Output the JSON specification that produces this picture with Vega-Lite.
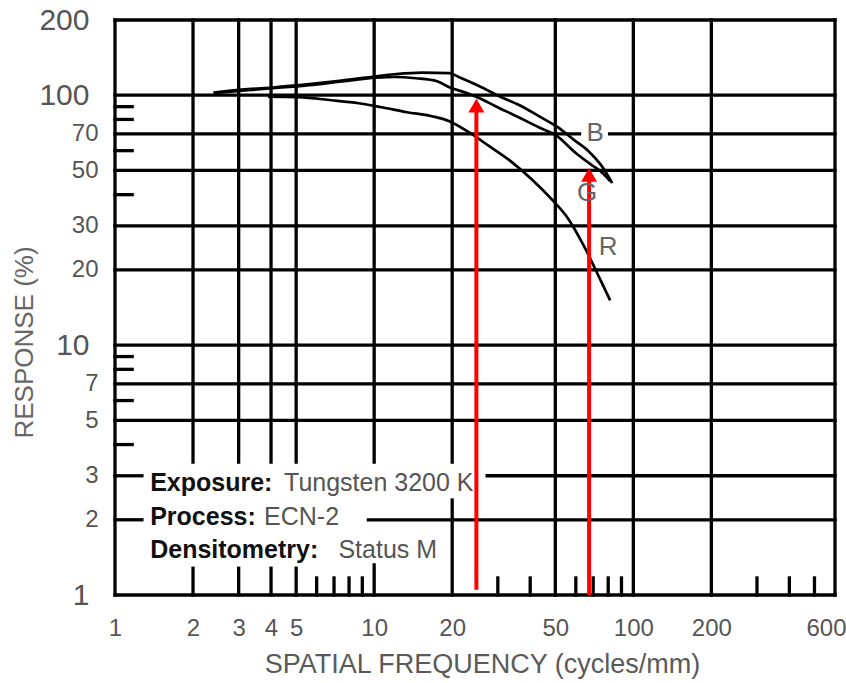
{
  "$schema": "https://vega.github.io/schema/vega-lite/v6.json",
  "width": 720,
  "height": 575,
  "autosize": {"type": "none"},
  "padding": {"left": 115, "top": 20, "right": 11, "bottom": 88},
  "background": "white",
  "config": {"view": {"stroke": null}, "font": "Liberation Sans"},
  "datasets": {
    "grid": [
      {"x": 1, "x2": 600, "y": 200, "y2": 200},
      {"x": 1, "x2": 600, "y": 100, "y2": 100},
      {"x": 1, "x2": 62, "y": 70, "y2": 70},
      {"x": 81, "x2": 600, "y": 70, "y2": 70},
      {"x": 1, "x2": 600, "y": 50, "y2": 50},
      {"x": 1, "x2": 600, "y": 30, "y2": 30},
      {"x": 1, "x2": 600, "y": 20, "y2": 20},
      {"x": 1, "x2": 600, "y": 10, "y2": 10},
      {"x": 1, "x2": 600, "y": 7, "y2": 7},
      {"x": 1, "x2": 600, "y": 5, "y2": 5},
      {"x": 1, "x2": 1.27, "y": 3, "y2": 3},
      {"x": 27.3, "x2": 600, "y": 3, "y2": 3},
      {"x": 1, "x2": 1.27, "y": 2, "y2": 2},
      {"x": 9.5, "x2": 600, "y": 2, "y2": 2},
      {"x": 1, "x2": 600, "y": 1, "y2": 1},
      {"x": 1, "x2": 1.165, "y": 90, "y2": 90},
      {"x": 1, "x2": 1.165, "y": 80, "y2": 80},
      {"x": 1, "x2": 1.165, "y": 60, "y2": 60},
      {"x": 1, "x2": 1.165, "y": 40, "y2": 40},
      {"x": 1, "x2": 1.165, "y": 9, "y2": 9},
      {"x": 1, "x2": 1.165, "y": 8, "y2": 8},
      {"x": 1, "x2": 1.165, "y": 6, "y2": 6},
      {"x": 1, "x2": 1.165, "y": 4, "y2": 4},
      {"x": 1, "x2": 1, "y": 1, "y2": 200},
      {"x": 2, "x2": 2, "y": 3.4, "y2": 200},
      {"x": 2, "x2": 2, "y": 1, "y2": 1.28},
      {"x": 3, "x2": 3, "y": 3.4, "y2": 200},
      {"x": 3, "x2": 3, "y": 1, "y2": 1.28},
      {"x": 4, "x2": 4, "y": 3.4, "y2": 200},
      {"x": 4, "x2": 4, "y": 1, "y2": 1.28},
      {"x": 5, "x2": 5, "y": 3.4, "y2": 200},
      {"x": 5, "x2": 5, "y": 1, "y2": 1.28},
      {"x": 10, "x2": 10, "y": 3.4, "y2": 200},
      {"x": 10, "x2": 10, "y": 1, "y2": 1.32},
      {"x": 20, "x2": 20, "y": 3.4, "y2": 200},
      {"x": 20, "x2": 20, "y": 1, "y2": 2.4},
      {"x": 50, "x2": 50, "y": 1, "y2": 200},
      {"x": 100, "x2": 100, "y": 1, "y2": 200},
      {"x": 200, "x2": 200, "y": 1, "y2": 200},
      {"x": 600, "x2": 600, "y": 1, "y2": 200},
      {"x": 6, "x2": 6, "y": 1, "y2": 1.17},
      {"x": 7, "x2": 7, "y": 1, "y2": 1.17},
      {"x": 8, "x2": 8, "y": 1, "y2": 1.17},
      {"x": 9, "x2": 9, "y": 1, "y2": 1.17},
      {"x": 30, "x2": 30, "y": 1, "y2": 1.17},
      {"x": 40, "x2": 40, "y": 1, "y2": 1.17},
      {"x": 60, "x2": 60, "y": 1, "y2": 1.17},
      {"x": 70, "x2": 70, "y": 1, "y2": 1.17},
      {"x": 80, "x2": 80, "y": 1, "y2": 1.17},
      {"x": 90, "x2": 90, "y": 1, "y2": 1.17},
      {"x": 300, "x2": 300, "y": 1, "y2": 1.17},
      {"x": 400, "x2": 400, "y": 1, "y2": 1.17},
      {"x": 500, "x2": 500, "y": 1, "y2": 1.17}
    ],
    "curves": [
      {"curve": "B", "freq": 2.40, "resp": 102.5},
      {"curve": "B", "freq": 3.26, "resp": 105.7},
      {"curve": "B", "freq": 4.07, "resp": 107.4},
      {"curve": "B", "freq": 5.62, "resp": 110.7},
      {"curve": "B", "freq": 7.35, "resp": 114.1},
      {"curve": "B", "freq": 10.2, "resp": 119.1},
      {"curve": "B", "freq": 12.0, "resp": 121.3},
      {"curve": "B", "freq": 15.3, "resp": 123.2},
      {"curve": "B", "freq": 19.5, "resp": 122.5},
      {"curve": "B", "freq": 21.3, "resp": 118.0},
      {"curve": "B", "freq": 25.5, "resp": 108.6},
      {"curve": "B", "freq": 30.4, "resp": 99.1},
      {"curve": "B", "freq": 36.4, "resp": 91.2},
      {"curve": "B", "freq": 43.9, "resp": 81.7},
      {"curve": "B", "freq": 51.1, "resp": 74.5},
      {"curve": "B", "freq": 58.5, "resp": 66.7},
      {"curve": "B", "freq": 66.9, "resp": 60.0},
      {"curve": "B", "freq": 75.1, "resp": 52.5},
      {"curve": "B", "freq": 82.9, "resp": 44.5},
      {"curve": "G", "freq": 2.40, "resp": 101.9},
      {"curve": "G", "freq": 3.26, "resp": 104.7},
      {"curve": "G", "freq": 4.07, "resp": 106.7},
      {"curve": "G", "freq": 5.62, "resp": 109.6},
      {"curve": "G", "freq": 7.35, "resp": 113.2},
      {"curve": "G", "freq": 10.2, "resp": 117.5},
      {"curve": "G", "freq": 12.0, "resp": 118.3},
      {"curve": "G", "freq": 14.5, "resp": 116.9},
      {"curve": "G", "freq": 17.5, "resp": 113.8},
      {"curve": "G", "freq": 19.5, "resp": 107.6},
      {"curve": "G", "freq": 22.9, "resp": 101.9},
      {"curve": "G", "freq": 25.5, "resp": 97.3},
      {"curve": "G", "freq": 29.4, "resp": 90.4},
      {"curve": "G", "freq": 36.4, "resp": 81.3},
      {"curve": "G", "freq": 43.5, "resp": 74.1},
      {"curve": "G", "freq": 50.2, "resp": 69.2},
      {"curve": "G", "freq": 60.1, "resp": 58.6},
      {"curve": "G", "freq": 69.9, "resp": 52.1},
      {"curve": "G", "freq": 75.1, "resp": 49.4},
      {"curve": "G", "freq": 81.4, "resp": 45.3},
      {"curve": "R", "freq": 3.89, "resp": 98.6},
      {"curve": "R", "freq": 5.09, "resp": 98.2},
      {"curve": "R", "freq": 6.84, "resp": 95.5},
      {"curve": "R", "freq": 8.71, "resp": 92.9},
      {"curve": "R", "freq": 10.7, "resp": 89.5},
      {"curve": "R", "freq": 13.4, "resp": 85.5},
      {"curve": "R", "freq": 16.7, "resp": 82.4},
      {"curve": "R", "freq": 19.5, "resp": 78.7},
      {"curve": "R", "freq": 23.5, "resp": 70.5},
      {"curve": "R", "freq": 27.8, "resp": 62.5},
      {"curve": "R", "freq": 33.6, "resp": 54.5},
      {"curve": "R", "freq": 40.9, "resp": 45.7},
      {"curve": "R", "freq": 48.0, "resp": 38.7},
      {"curve": "R", "freq": 55.9, "resp": 32.2},
      {"curve": "R", "freq": 64.5, "resp": 24.9},
      {"curve": "R", "freq": 75.1, "resp": 18.0},
      {"curve": "R", "freq": 81.4, "resp": 15.1}
    ],
    "arrows": [
      {"freq": 24.8, "base": 1.05, "tip": 91.0},
      {"freq": 67.5, "base": 1.0, "tip": 48.0}
    ],
    "labels": [
      {"label": "B", "freq": 71.2, "resp": 70.5},
      {"label": "G", "freq": 66.3, "resp": 40.7},
      {"label": "R", "freq": 80.0, "resp": 24.7}
    ],
    "notes": [
      {"key": "Exposure:", "value": "Tungsten 3200 K", "vx": 4.49, "y": 2.805},
      {"key": "Process:", "value": "ECN-2", "vx": 3.76, "y": 2.05},
      {"key": "Densitometry:", "value": "Status M", "vx": 7.28, "y": 1.514}
    ]
  },
  "layer": [
    {
      "data": {"name": "grid"},
      "mark": {"type": "rule", "color": "black", "strokeWidth": 3.3, "strokeCap": "square"},
      "encoding": {
        "x": {
          "field": "x", "type": "quantitative",
          "scale": {"type": "log", "domain": [1, 600], "nice": false},
          "axis": {
            "values": [1, 2, 3, 4, 5, 10, 20, 50, 100, 200, 600],
            "format": "d",
            "domain": false, "ticks": false, "grid": false,
            "labelFontSize": 24, "labelColor": "#555555",
            "labelPadding": 33, "labelBaseline": "middle",
            "labelOffset": {"condition": {"test": "datum.value == 600", "value": -9}, "value": 0},
            "labelFlush": false, "labelOverlap": false, "labelBound": false,
            "title": "SPATIAL FREQUENCY (cycles/mm)",
            "titleFontSize": 27, "titleFontWeight": "normal", "titleColor": "#5a5a5a",
            "titleX": 367, "titleY": 69, "titleBaseline": "middle", "titleAlign": "center"
          }
        },
        "x2": {"field": "x2"},
        "y": {
          "field": "y", "type": "quantitative",
          "scale": {"type": "log", "domain": [1, 200], "nice": false},
          "axis": {
            "values": [1, 2, 3, 5, 7, 10, 20, 30, 50, 70, 100, 200],
            "format": "d",
            "domain": false, "ticks": false, "grid": false,
            "labelFontSize": {"condition": {"test": "datum.value == 1 || datum.value == 10 || datum.value == 100 || datum.value == 200", "value": 30}, "value": 24},
            "labelPadding": {"condition": {"test": "datum.value == 1 || datum.value == 10 || datum.value == 100 || datum.value == 200", "value": 26}, "value": 17},
            "labelColor": "#555555",
            "labelBaseline": "middle",
            "labelFlush": false, "labelOverlap": false, "labelBound": false,
            "title": "RESPONSE (%)",
            "titleFontSize": 26, "titleFontWeight": "normal", "titleColor": "#666666",
            "titleX": -91, "titleY": 322, "titleAngle": 270, "titleBaseline": "middle", "titleAlign": "center"
          }
        },
        "y2": {"field": "y2"}
      }
    },
    {
      "data": {"name": "curves"},
      "mark": {"type": "line", "color": "black", "strokeWidth": 2.7, "interpolate": "monotone"},
      "encoding": {
        "x": {"field": "freq", "type": "quantitative"},
        "y": {"field": "resp", "type": "quantitative"},
        "detail": {"field": "curve"}
      }
    },
    {
      "data": {"name": "arrows"},
      "mark": {"type": "rule", "color": "#ff0000", "strokeWidth": 4},
      "encoding": {
        "x": {"field": "freq", "type": "quantitative"},
        "y": {"field": "base", "type": "quantitative"},
        "y2": {"field": "tip"}
      }
    },
    {
      "data": {"name": "arrows"},
      "mark": {"type": "point", "shape": "triangle-up", "filled": true, "color": "#ff0000", "size": 256, "opacity": 1, "strokeWidth": 0},
      "encoding": {
        "x": {"field": "freq", "type": "quantitative"},
        "y": {"field": "tip", "type": "quantitative"}
      }
    },
    {
      "data": {"name": "labels"},
      "mark": {"type": "text", "fontSize": 26, "color": "#666666", "align": "center", "baseline": "middle"},
      "encoding": {
        "x": {"field": "freq", "type": "quantitative"},
        "y": {"field": "resp", "type": "quantitative"},
        "text": {"field": "label"}
      }
    },
    {
      "data": {"name": "notes"},
      "mark": {"type": "text", "fontSize": 25, "fontWeight": "bold", "color": "#111111", "align": "left", "baseline": "middle"},
      "encoding": {
        "x": {"datum": 1.367, "type": "quantitative"},
        "y": {"field": "y", "type": "quantitative"},
        "text": {"field": "key"}
      }
    },
    {
      "data": {"name": "notes"},
      "mark": {"type": "text", "fontSize": 25, "color": "#555555", "align": "left", "baseline": "middle"},
      "encoding": {
        "x": {"field": "vx", "type": "quantitative"},
        "y": {"field": "y", "type": "quantitative"},
        "text": {"field": "value"}
      }
    }
  ]
}
